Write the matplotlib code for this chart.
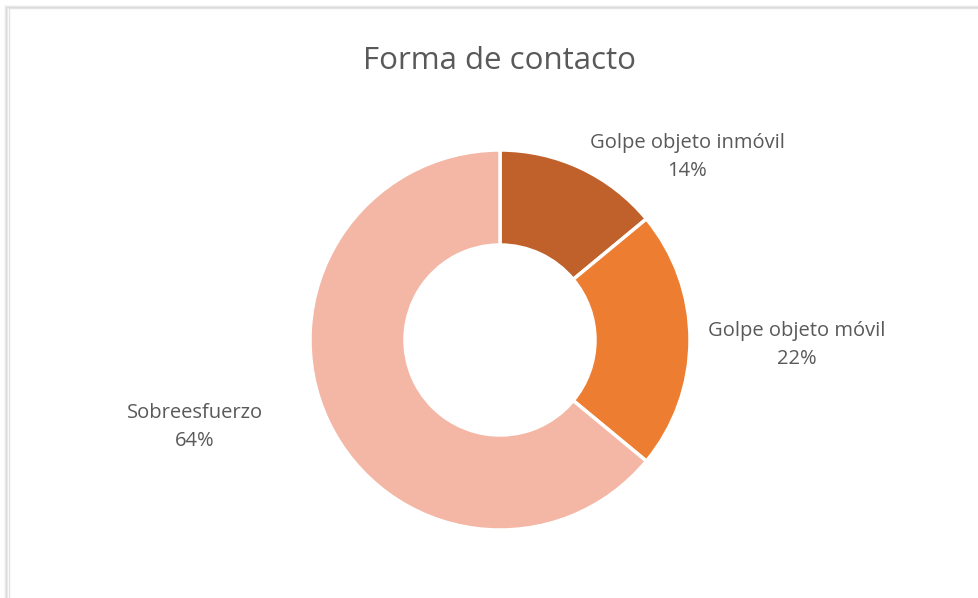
import matplotlib
matplotlib.use("Agg")
import matplotlib.pyplot as plt
from matplotlib.patches import Rectangle

categories = ["Golpe objeto inmóvil", "Golpe objeto móvil", "Sobreesfuerzo"]
values = [14, 22, 64]
colors = ["#C0602A", "#ED7D31", "#F4B6A5"]
title = "Forma de contacto"

W, H = 979, 598
fig = plt.figure(figsize=(W / 100, H / 100), dpi=100)
fig.patch.set_facecolor("white")

# frame with soft shadow
for i, a in enumerate([0.04, 0.07, 0.10]):
    fig.patches.append(Rectangle(((5 + i) / W, -0.1), 1.2, (H - 6 - i) / H + 0.1,
                                 transform=fig.transFigure, facecolor="none",
                                 edgecolor=(0, 0, 0, a), linewidth=1.2, zorder=-5))
fig.patches.append(Rectangle((9 / W, -0.1), 1.2, (H - 8) / H + 0.1,
                             transform=fig.transFigure, facecolor="white",
                             edgecolor="#E3E3E3", linewidth=1.0, zorder=-4))

ax = fig.add_axes([0, 0, 1, 1])
ax.set_zorder(1)
ax.patch.set_visible(False)

cx, cy, R = 500, H - 340, 190
wedges, _ = ax.pie(values, colors=colors, startangle=90, counterclock=False,
                   center=(cx, cy), radius=R, frame=True,
                   wedgeprops=dict(width=R * 0.5, edgecolor="white", linewidth=2.5))
ax.set_xlim(0, W)
ax.set_ylim(0, H)
ax.set_aspect("equal")
ax.axis("off")

fam = ["Open Sans", "DejaVu Sans"]
ax.text(500, H - 61, title, ha="center", va="center", fontsize=22.5,
        color="#595959", family=fam)

label_pos = [(687, H - 157), (797, H - 345), (195, H - 427)]
for (x, y), c, v in zip(label_pos, categories, values):
    ax.text(x, y, f"{c}\n{v}%", ha="center", va="center", fontsize=14.5,
            color="#595959", family=fam, linespacing=1.5)

fig.savefig("out.png", dpi=100, facecolor="white")
